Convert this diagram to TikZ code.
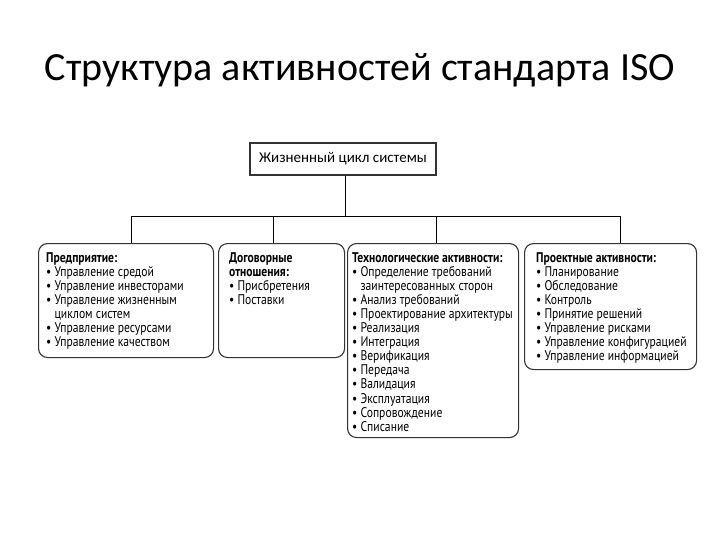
\documentclass[tikz,border=0pt]{standalone}
\usepackage{fontspec}
\setmainfont{Carlito}
\newfontfamily\condfont[FakeStretch=0.83]{PT Sans}
\begin{document}
\begin{tikzpicture}[x=1pt,y=-1pt,
  box/.style={draw=black!80, line width=1.1pt, rounded corners=9pt, anchor=north west, inner sep=0pt},
  txt/.style={anchor=north west, inner sep=0pt, align=left, font=\condfont\fontsize{14}{14.1}\selectfont},
  conn/.style={draw=black, line width=0.9pt}]
\useasboundingbox (0,0) rectangle (720,540);
\node[font=\fontsize{40}{44}\selectfont, inner sep=0pt] (title) at (360,70) {Структура активностей стандарта ISO};
\node[draw=black!80, line width=1.1pt, minimum width=186pt, minimum height=32pt, inner sep=0pt, font=\fontsize{15}{17}\selectfont] (top) at (343,159) {Жизненный цикл системы};
\node[box, minimum width=175pt, minimum height=114pt] (b1) at (38,243) {};
\node[box, minimum width=126pt, minimum height=114pt] (b2) at (218,243) {};
\node[box, minimum width=171pt, minimum height=194pt] (b3) at (347,243) {};
\node[box, minimum width=172pt, minimum height=126pt] (b4) at (524,243) {};
\coordinate (j0) at (345,216);
\coordinate (h1) at (131,216);
\coordinate (h2) at (273,216);
\coordinate (h3) at (436,216);
\coordinate (h4) at (620,216);
\draw[conn] (top.south -| j0) -- (j0);
\draw[conn] (h1) -- (h4);
\draw[conn] (h1) -- (h1 |- b1.north);
\draw[conn] (h2) -- (h2 |- b2.north);
\draw[conn] (h3) -- (h3 |- b3.north);
\draw[conn] (h4) -- (h4 |- b4.north);
\node[txt] (t1) at ([shift={(8,9)}]b1.north west) {\textbf{Предприятие:}\\
• Управление средой\\
• Управление инвесторами\\
• Управление жизненным\\
\phantom{• }циклом систем\\
• Управление ресурсами\\
• Управление качеством};
\node[txt] (t2) at ([shift={(11,9)}]b2.north west) {\textbf{Договорные}\\
\textbf{отношения:}\\
• Присбретения\\
• Поставки};
\node[txt] (t3) at ([shift={(5,9)}]b3.north west) {\textbf{Технологические активности:}\\
• Определение требований\\
\phantom{• }заинтересованных сторон\\
• Анализ требований\\
• Проектирование архитектуры\\
• Реализация\\
• Интеграция\\
• Верификация\\
• Передача\\
• Валидация\\
• Эксплуатация\\
• Сопровождение\\
• Списание};
\node[txt] (t4) at ([shift={(12,9)}]b4.north west) {\textbf{Проектные активности:}\\
• Планирование\\
• Обследование\\
• Контроль\\
• Принятие решений\\
• Управление рисками\\
• Управление конфигурацией\\
• Управление информацией};
\end{tikzpicture}
\end{document}
